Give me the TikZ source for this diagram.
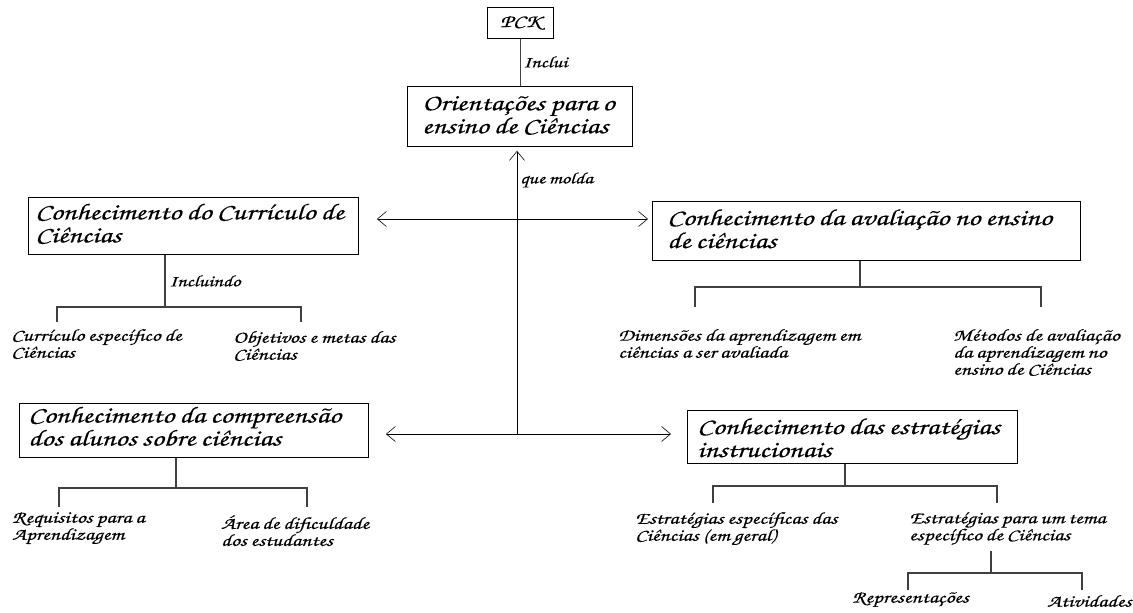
\documentclass[tikz,border=0pt]{standalone}
\usepackage{fontspec}
\setmainfont{texgyrechorus-mediumitalic.otf}
\newfontfamily\handwide[FakeStretch=1.3,WordSpace=0.8,FakeBold=0.4]{texgyrechorus-mediumitalic.otf}
\usetikzlibrary{arrows.meta}
\begin{document}
\begin{tikzpicture}[x=1pt,y=-1pt,
  frame/.style={draw=black,line width=0.9pt,anchor=north west,inner sep=0pt},
  boxtext/.style={anchor=west,inner sep=0pt,align=left,font=\handwide\fontsize{23}{23}\selectfont},
  leaf/.style={anchor=north west,inner sep=0pt,align=left,font=\handwide\fontsize{17}{17}\selectfont},
  lbl/.style={anchor=west,inner sep=0pt,font=\handwide\fontsize{16}{16}\selectfont},
  tree/.style={draw=black!75,line width=1.2pt},
  arr/.style={draw=black,line width=0.7pt,-{Straight Barb[length=9pt,width=15pt,line width=0.6pt]}},
  dbl/.style={draw=black,line width=0.7pt,{Straight Barb[length=9pt,width=15pt,line width=0.6pt]}-{Straight Barb[length=9pt,width=15pt,line width=0.6pt]}}]
\useasboundingbox (0,0) rectangle (1133,613);

% top of the hierarchy
\node[frame,minimum width=66pt,minimum height=31pt,
  font=\handwide\fontsize{18}{20}\selectfont] (pck) at (487,7) {PCK};
\node[frame,minimum width=225pt,minimum height=60pt] (ori) at (407,86) {};
\node[boxtext] (orit) at ([xshift=15pt,yshift=1pt]ori.west) {Orientações para o\\ensino de Ciências};
\draw[tree,line width=1pt] (pck.south) -- (pck.south |- ori.north);
\node[lbl] (inclui) at (523,62) {Inclui};

% the four knowledge components
\node[frame,minimum width=330pt,minimum height=57pt] (cur) at (28,197) {};
\node[boxtext] (curt) at ([xshift=7pt,yshift=2pt]cur.west) {Conhecimento do Currículo de\\Ciências};
\node[frame,minimum width=428pt,minimum height=59pt] (ava) at (652,201) {};
\node[boxtext] (avat) at ([xshift=15pt,yshift=2pt]ava.west) {Conhecimento da avaliação no ensino\\de ciências};
\node[frame,minimum width=349pt,minimum height=54pt] (com) at (19,403) {};
\node[boxtext] (comt) at ([xshift=9pt,yshift=4pt]com.west) {Conhecimento da compreensão\\dos alunos sobre ciências};
\node[frame,minimum width=330pt,minimum height=53pt] (est) at (687,410) {};
\node[boxtext] (estt) at ([xshift=10pt,yshift=-1pt]est.west) {Conhecimento das estratégias\\instrucionais};

% central shaping arrows
\coordinate (hub) at (517,434);
\coordinate (mid) at (517,219);
\draw[arr,shorten >=4pt] (hub) -- (hub |- ori.south);
\node[lbl] (molda) at (520,180) {que molda};
\draw[dbl,shorten <=18pt,shorten >=4pt] (cur.east |- mid) -- (ava.west |- mid);
\draw[dbl,shorten <=17pt,shorten >=16pt] (com.east |- hub) -- (est.west |- hub);

% curriculum branch
\node[leaf] (cur1) at (11,329) {Currículo específico de\\Ciências};
\node[leaf] (cur2) at (233,331) {Objetivos e metas das\\Ciências};
\coordinate (curj) at (165,307);
\draw[tree] (cur.south -| curj) -- (curj);
\draw[tree] (57,322) -- (57,307) -- (301,307) -- (301,322);
\node[lbl] (incl) at (169,281) {Incluindo};

% assessment branch
\node[leaf] (ava1) at (618,329) {Dimensões da aprendizagem em\\ciências a ser avaliada};
\node[leaf] (ava2) at (953,329) {Métodos de avaliação\\da aprendizagem no\\ensino de Ciências};
\coordinate (avaj) at (860,287);
\draw[tree] (ava.south -| avaj) -- (avaj);
\draw[tree] (695,307) -- (695,287) -- (1041,287) -- (1041,307);

% student understanding branch
\node[leaf] (com1) at (12,512) {Requisitos para a\\Aprendizagem};
\node[leaf] (com2) at (221,515) {Área de dificuldade\\dos estudantes};
\coordinate (comj) at (176,488);
\draw[tree] (com.south -| comj) -- (comj);
\draw[tree] (59,507) -- (59,488) -- (307,488) -- (307,507);

% instructional strategies branch
\node[leaf] (est1) at (635,512) {Estratégias específicas das\\Ciências (em geral)};
\node[leaf] (est2) at (909,512) {Estratégias para um tema\\específico de Ciências};
\coordinate (estj) at (845,486);
\draw[tree] (est.south -| estj) -- (estj);
\draw[tree] (713,503) -- (713,486) -- (997,486) -- (997,503);

% topic-specific strategies
\node[leaf] (rep) at (852,592) {Representações};
\node[leaf] (ati) at (1047,595) {Atividades};
\coordinate (topj) at (991,573);
\draw[tree] (991,551) -- (topj);
\draw[tree] (908,590) -- (908,573) -- (1082,573) -- (1082,590);
\end{tikzpicture}
\end{document}
